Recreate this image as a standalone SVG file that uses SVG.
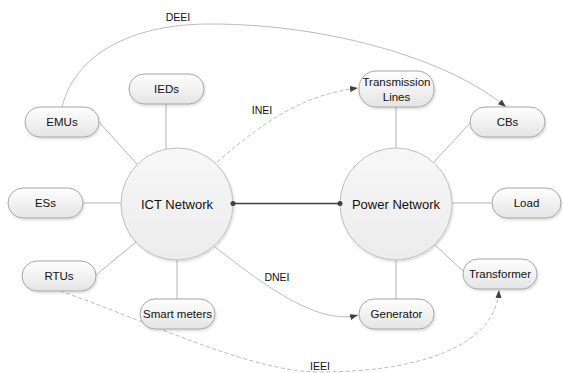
<svg xmlns="http://www.w3.org/2000/svg" width="563" height="373" viewBox="0 0 563 373">
  <style>
    .node rect { fill: url(#gNode); stroke: #a6a6a6; stroke-width: 1; filter: url(#sh); }
    .hub circle { fill: url(#gHub); stroke: #bfbfbf; stroke-width: 1; filter: url(#sh); }
    text { font-family: "Liberation Sans", Arial, sans-serif; fill: #111; text-anchor: middle; }
    .node text { font-size: 11.5px; }
    .hub text { font-size: 13px; }
    .lbl { font-size: 10.5px; }
    .spoke { stroke: #b4b4b4; stroke-width: 1; fill: none; }
    .curve { stroke: #bcbcbc; stroke-width: 1; fill: none; marker-end: url(#arr); }
    .dash { stroke-dasharray: 4 2.5; }
    .link { stroke: #404040; stroke-width: 1.5; }
  </style>
  <defs>
    <linearGradient id="gNode" x1="0" y1="0" x2="0" y2="1">
      <stop offset="0" stop-color="#ffffff"/>
      <stop offset="1" stop-color="#e4e4e4"/>
    </linearGradient>
    <linearGradient id="gHub" x1="0" y1="0" x2="0" y2="1">
      <stop offset="0" stop-color="#f7f7f7"/>
      <stop offset="1" stop-color="#ececec"/>
    </linearGradient>
    <filter id="sh" x="-20%" y="-20%" width="140%" height="150%">
      <feDropShadow dx="1" dy="1.5" stdDeviation="1" flood-color="#000" flood-opacity="0.15"/>
    </filter>
    <marker id="arr" markerUnits="userSpaceOnUse" markerWidth="10" markerHeight="8" refX="8" refY="3" orient="auto">
      <path d="M0,0 L8,3 L0,6 z" fill="#404040"/>
    </marker>
  </defs>

  <g id="connectors">
    <line class="spoke" x1="99" y1="122" x2="137" y2="164"/>
    <line class="spoke" x1="166" y1="104" x2="166" y2="149"/>
    <line class="spoke" x1="83" y1="203" x2="121" y2="203"/>
    <line class="spoke" x1="96" y1="275" x2="136" y2="242"/>
    <line class="spoke" x1="177" y1="260" x2="177" y2="299"/>
    <line class="spoke" x1="396" y1="107" x2="396" y2="148"/>
    <line class="spoke" x1="471" y1="122" x2="434" y2="162"/>
    <line class="spoke" x1="452" y1="203" x2="492" y2="203"/>
    <line class="spoke" x1="435" y1="245" x2="464" y2="272"/>
    <line class="spoke" x1="396" y1="260" x2="396" y2="299"/>
    <path class="curve" d="M62,107 C75,55 130,24 210,24 C330,24 450,60 506,107"/>
    <path class="curve dash" d="M217,162 C260,125 300,95 358,88"/>
    <path class="curve" d="M215,247 C270,290 320,325 358,315"/>
    <path class="curve dash" d="M60,291 C150,322 250,372 320,372 C410,372 495,350 499,290"/>
    <text class="lbl" x="178" y="21">DEEI</text>
    <text class="lbl" x="262" y="114">INEI</text>
    <text class="lbl" x="277" y="281">DNEI</text>
    <text class="lbl" x="320" y="370">IEEI</text>
  </g>

  <g id="ict" class="hub">
    <circle cx="177" cy="204" r="56"/>
    <text x="177" y="208.5">ICT Network</text>
  </g>
  <g id="power" class="hub">
    <circle cx="396" cy="204" r="56"/>
    <text x="396" y="208.5">Power Network</text>
  </g>

  <g id="link">
    <line class="link" x1="233" y1="203.5" x2="340" y2="203.5"/>
    <circle cx="233" cy="203.5" r="2.5" fill="#404040"/>
    <circle cx="340" cy="203.5" r="2.5" fill="#404040"/>
  </g>

  <g id="emus" class="node"><rect x="25" y="107" width="74" height="30" rx="15"/><text x="62" y="126">EMUs</text></g>
  <g id="ieds" class="node"><rect x="129" y="74" width="75" height="30" rx="15"/><text x="166.5" y="93">IEDs</text></g>
  <g id="ess" class="node"><rect x="8" y="188" width="75" height="30" rx="15"/><text x="45.5" y="207">ESs</text></g>
  <g id="rtus" class="node"><rect x="22" y="261" width="74" height="30" rx="15"/><text x="59" y="280">RTUs</text></g>
  <g id="smart" class="node"><rect x="140" y="299" width="75" height="30" rx="15"/><text x="177.5" y="318">Smart meters</text></g>
  <g id="tlines" class="node"><rect x="359" y="71" width="75" height="36" rx="17"/><text x="396.5" y="86">Transmission</text><text x="396.5" y="101">Lines</text></g>
  <g id="cbs" class="node"><rect x="470" y="107" width="75" height="30" rx="15"/><text x="507.5" y="126">CBs</text></g>
  <g id="load" class="node"><rect x="492" y="188" width="69" height="30" rx="15"/><text x="526.5" y="207">Load</text></g>
  <g id="transformer" class="node"><rect x="463" y="259" width="74" height="30" rx="15"/><text x="500" y="278">Transformer</text></g>
  <g id="generator" class="node"><rect x="359" y="299" width="75" height="30" rx="15"/><text x="396.5" y="318">Generator</text></g>
</svg>
